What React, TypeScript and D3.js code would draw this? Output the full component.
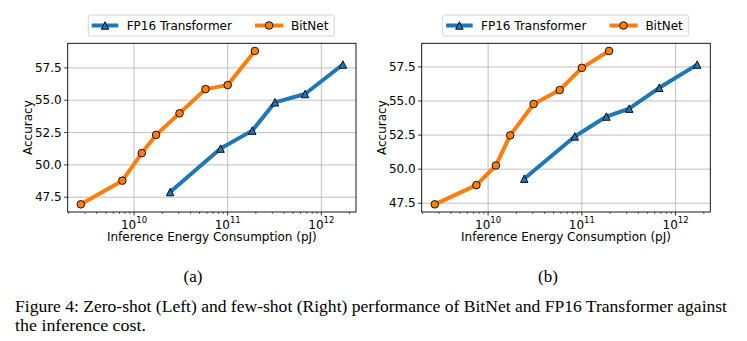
import React from "react";
import * as d3 from "d3";

const bitnetEnergy = [2.7e9, 7.5e9, 1.21e10, 1.72e10, 3.06e10, 5.8e10, 1.0e11, 1.95e11];
const fp16Energy = [2.43e10, 8.4e10, 1.83e11, 3.2e11, 6.7e11, 1.7e12];
const zeroShotBitNet = [46.95, 48.78, 50.91, 52.32, 53.99, 55.86, 56.17, 58.81];
const zeroShotFP16 = [47.9, 51.26, 52.65, 54.84, 55.48, 57.76];
const fewShotBitNet = [47.42, 48.83, 50.27, 52.48, 54.78, 55.8, 57.43, 58.67];
const fewShotFP16 = [49.3, 52.4, 53.86, 54.44, 55.97, 57.67];
const yTicks = [47.5, 50.0, 52.5, 55.0, 57.5];
const xTickExponents = [10, 11, 12];
const seriesNames = ["FP16 Transformer", "BitNet"];
const subLabels = ["(a)", "(b)"];
const captionLines = [
  "Figure 4: Zero-shot (Left) and few-shot (Right) performance of BitNet and FP16 Transformer against",
  "the inference cost.",
];

const BLUE = "#1f77b4";
const ORANGE = "#ff7f0e";
const FONT = "DejaVu Sans";

function tri(cx: number, cy: number, s: number) {
  const h = s / 2;
  return `M${cx},${cy - h}L${cx - h},${cy + h}L${cx + h},${cy + h}Z`;
}

function Panel({ left, right, top, bottom, bit, fp, ylabelX, legendLeft }: any) {
  const allX = [...bitnetEnergy, ...fp16Energy];
  const lx0 = Math.log10(d3.min(allX)!);
  const lx1 = Math.log10(d3.max(allX)!);
  const px = (lx1 - lx0) * 0.05;
  const x = d3.scaleLog().domain([Math.pow(10, lx0 - px), Math.pow(10, lx1 + px)]).range([left, right]);
  const allY = [...bit, ...fp];
  const y0 = d3.min(allY)!, y1 = d3.max(allY)!;
  const py = (y1 - y0) * 0.05;
  const y = d3.scaleLinear().domain([y0 - py, y1 + py]).range([bottom, top]);
  const line = d3.line<[number, number]>().x((d) => x(d[0])).y((d) => y(d[1]));
  const bitPts: [number, number][] = bitnetEnergy.map((e, i) => [e, bit[i]]);
  const fpPts: [number, number][] = fp16Energy.map((e, i) => [e, fp[i]]);
  const [dmin, dmax] = x.domain();
  const minor: number[] = [];
  for (let dec = 9; dec <= 12; dec++) {
    for (let k = 2; k <= 9; k++) {
      const v = k * Math.pow(10, dec);
      if (v >= dmin && v <= dmax) minor.push(v);
    }
  }
  const cx = (left + right) / 2;
  const cy = (top + bottom) / 2;
  const lg = legendLeft;
  const ly = 25.5;
  return (
    <g fontFamily={FONT}>
      {xTickExponents.map((e) => (
        <line key={"gx" + e} x1={x(Math.pow(10, e))} x2={x(Math.pow(10, e))} y1={top} y2={bottom} stroke="#b0b0b0" strokeWidth={0.8} />
      ))}
      {yTicks.map((t) => (
        <line key={"gy" + t} x1={left} x2={right} y1={y(t)} y2={y(t)} stroke="#b0b0b0" strokeWidth={0.8} />
      ))}
      <path d={line(fpPts)!} fill="none" stroke={BLUE} strokeWidth={4} strokeLinejoin="round" />
      <path d={line(bitPts)!} fill="none" stroke={ORANGE} strokeWidth={4} strokeLinejoin="round" />
      {fpPts.map((p, i) => (
        <path key={"fm" + i} d={tri(x(p[0]), y(p[1]), 7.5)} fill={BLUE} stroke="#000" strokeWidth={0.9} />
      ))}
      {bitPts.map((p, i) => (
        <circle key={"bm" + i} cx={x(p[0])} cy={y(p[1])} r={3.8} fill={ORANGE} stroke="#000" strokeWidth={0.9} />
      ))}
      <rect x={left} y={top} width={right - left} height={bottom - top} fill="none" stroke="#000" strokeWidth={0.9} />
      {yTicks.map((t) => (
        <g key={"yt" + t}>
          <line x1={left - 3.5} x2={left} y1={y(t)} y2={y(t)} stroke="#000" strokeWidth={0.8} />
          <text x={left - 6} y={y(t)} textAnchor="end" dominantBaseline="central" fontSize={12} fill="#000">
            {t.toFixed(1)}
          </text>
        </g>
      ))}
      {minor.map((v) => (
        <line key={"mx" + v} x1={x(v)} x2={x(v)} y1={bottom} y2={bottom + 2} stroke="#000" strokeWidth={0.6} />
      ))}
      {xTickExponents.map((e) => (
        <g key={"xt" + e}>
          <line x1={x(Math.pow(10, e))} x2={x(Math.pow(10, e))} y1={bottom} y2={bottom + 3.5} stroke="#000" strokeWidth={0.8} />
          <text x={x(Math.pow(10, e))} y={228.5} textAnchor="middle" fontSize={12} fill="#000">
            10<tspan dy={-5.5} fontSize={8.5}>{e}</tspan>
          </text>
        </g>
      ))}
      <text x={cx} y={241} textAnchor="middle" fontSize={12} fill="#000">
        Inference Energy Consumption (pJ)
      </text>
      <text transform={`translate(${ylabelX},${cy}) rotate(-90)`} textAnchor="middle" dominantBaseline="central" fontSize={12} fill="#000">
        Accuracy
      </text>
      <rect x={lg} y={15} width={246} height={21} rx={2} fill="#fff" fillOpacity={0.8} stroke="#cccccc" strokeWidth={0.8} />
      <line x1={lg + 3.4} x2={lg + 30} y1={ly} y2={ly} stroke={BLUE} strokeWidth={4} />
      <path d={tri(lg + 16.7, ly, 7.5)} fill={BLUE} stroke="#000" strokeWidth={0.9} />
      <text x={lg + 38.4} y={ly} dominantBaseline="central" fontSize={12} fill="#000">{seriesNames[0]}</text>
      <line x1={lg + 166.7} x2={lg + 195} y1={ly} y2={ly} stroke={ORANGE} strokeWidth={4} />
      <circle cx={lg + 180.8} cy={ly} r={3.8} fill={ORANGE} stroke="#000" strokeWidth={0.9} />
      <text x={lg + 202.7} y={ly} dominantBaseline="central" fontSize={12} fill="#000">{seriesNames[1]}</text>
    </g>
  );
}

export default function App() {
  return (
    <svg width={747} height={341} style={{ position: "absolute", left: 0, top: 0, background: "#fff" }}>
      <rect width={747} height={341} fill="#fff" />
      <Panel left={67.7} right={356} top={43.3} bottom={212} bit={zeroShotBitNet} fp={zeroShotFP16} ylabelX={27.5} legendLeft={88.3} />
      <Panel left={421.7} right={710.3} top={43.3} bottom={212} bit={fewShotBitNet} fp={fewShotFP16} ylabelX={381.7} legendLeft={442.7} />
      <g fontFamily="Liberation Serif" fill="#000">
        <text x={193} y={282} textAnchor="middle" fontSize={17}>{subLabels[0]}</text>
        <text x={548} y={282} textAnchor="middle" fontSize={17}>{subLabels[1]}</text>
        <text x={15} y={312.4} fontSize={16} textLength={712} lengthAdjust="spacingAndGlyphs">{captionLines[0]}</text>
        <text x={15} y={330.8} fontSize={16} textLength={131} lengthAdjust="spacingAndGlyphs">{captionLines[1]}</text>
      </g>
    </svg>
  );
}
